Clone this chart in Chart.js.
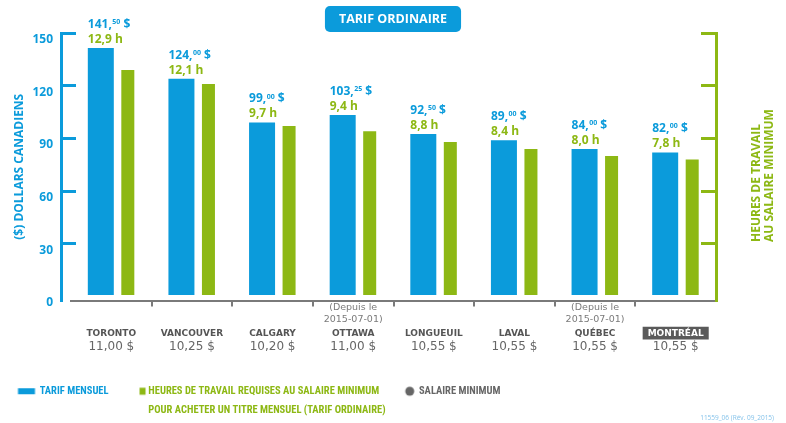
<!DOCTYPE html>
<html lang="fr"><head><meta charset="utf-8">
<script src="https://cdn.jsdelivr.net/npm/chart.js@4.4.1/dist/chart.umd.min.js"></script>
<style>html,body{margin:0;padding:0;background:#fff;}canvas{display:block;}</style>
</head><body>
<canvas id="chart" width="786" height="423"></canvas>
<script>
// ---------- data ----------
const cities = ['TORONTO','VANCOUVER','CALGARY','OTTAWA','LONGUEUIL','LAVAL','QUÉBEC','MONTRÉAL'];
const cityNotes = ['', '', '', ['(Depuis le','2015-07-01)'], '', '', ['(Depuis le','2015-07-01)'], ''];
const minimumWages = ['11,00 $','10,25 $','10,20 $','11,00 $','10,55 $','10,55 $','10,55 $','10,55 $'];
const monthlyFare = [141.50, 124.00, 99.00, 103.25, 92.50, 89.00, 84.00, 82.00];
const hoursRequired = [12.9, 12.1, 9.7, 9.4, 8.8, 8.4, 8.0, 7.8];
const dollarTicks = [0, 30, 60, 90, 120, 150];
const hourTicks = [0, 3, 6, 9, 12, 15];
const chartTitle = 'TARIF ORDINAIRE';
const leftAxisTitle = '($) DOLLARS CANADIENS';
const rightAxisTitle = ['HEURES DE TRAVAIL', 'AU SALAIRE MINIMUM'];
const legendLabels = ['TARIF MENSUEL', ['HEURES DE TRAVAIL REQUISES AU SALAIRE MINIMUM', 'POUR ACHETER UN TITRE MENSUEL (TARIF ORDINAIRE)'], 'SALAIRE MINIMUM'];
const highlightCity = 'MONTRÉAL';
const footnote = '11559_06 (Rév. 09_2015)';

// ---------- styles ----------
const BLUE = '#0b9bdb', GREEN = '#8db814', AXISGRAY = '#7a7a7a', DOTGRAY = '#666666';
const FAM = '"Open Sans", Roboto, sans-serif';
const WIDE = '"DejaVu Sans", "Open Sans", sans-serif';
const NARROW = '"Liberation Sans Narrow", "Roboto Condensed", "DejaVu Sans Condensed", Roboto, sans-serif';
const CLEAR = 'rgba(0,0,0,0)';
const LEGEND_FONT = { family: NARROW, size: 10.5, weight: 'bold' };
const LEGEND_BOX = 12;

function swatch(draw){
  const c = document.createElement('canvas'); c.width = 24; c.height = 12;
  draw(c.getContext('2d')); return c;
}
const swBlue = swatch(g => { g.fillStyle = BLUE; g.fillRect(1.5, 3, 17, 6); });
const swGreen = swatch(g => { g.fillStyle = GREEN; g.fillRect(14.5, 2.5, 6, 7); });
const swGray = swatch(g => { g.fillStyle = DOTGRAY; g.beginPath(); g.arc(14, 6, 4.5, 0, Math.PI*2); g.fill(); });

function moneyParts(v){
  const whole = Math.floor(v);
  const cents = String(Math.round((v - whole) * 100)).padStart(2, '0');
  return [whole + ',', cents, ' $'];
}
function hoursText(v){ return v.toFixed(1).replace('.', ',') + ' h'; }

const titleBox = {
  id: 'titleBox',
  beforeDraw(chart){
    const tb = chart.titleBlock; if (!tb) return;
    const ctx = chart.ctx;
    ctx.save();
    ctx.font = `bold 12.5px ${FAM}`;
    const w = ctx.measureText(chartTitle).width + 28;
    const cx = (tb.left + tb.right) / 2;
    ctx.fillStyle = BLUE;
    ctx.beginPath();
    ctx.roundRect(cx - w/2, 6, w, 26, 5);
    ctx.fill();
    ctx.restore();
  }
};

const valueLabels = {
  id: 'valueLabels',
  afterDatasetsDraw(chart){
    const ctx = chart.ctx;
    const meta = chart.getDatasetMeta(0);
    ctx.save();
    ctx.textAlign = 'left'; ctx.textBaseline = 'middle';
    meta.data.forEach((bar, i) => {
      const left = bar.x - bar.width / 2;
      const top = bar.y;
      const [a, c, d] = moneyParts(monthlyFare[i]);
      const y = top - 23.5;
      ctx.fillStyle = BLUE;
      ctx.font = `bold 12px ${FAM}`;
      ctx.fillText(a, left, y);
      let x = left + ctx.measureText(a).width + 0.5;
      ctx.font = `bold 7px ${FAM}`;
      ctx.fillText(c, x, y - 2.5);
      x += ctx.measureText(c).width;
      ctx.font = `bold 12px ${FAM}`;
      ctx.fillText(d, x, y);
      ctx.fillStyle = GREEN;
      ctx.fillText(hoursText(hoursRequired[i]), left, top - 8.5);
    });
    ctx.restore();
  }
};

const extraText = {
  id: 'extraText',
  afterDraw(chart){
    const ctx = chart.ctx;
    const s = chart.scales.y2;
    // right axis title (reads bottom to top)
    ctx.save();
    ctx.fillStyle = GREEN;
    ctx.font = `bold 12px ${FAM}`;
    ctx.textAlign = 'left'; ctx.textBaseline = 'middle';
    ctx.translate(s.left + 47, 242);
    ctx.rotate(-Math.PI / 2);
    ctx.fillText(rightAxisTitle[0], 0, -6.5);
    ctx.fillText(rightAxisTitle[1], 0, 6.5);
    ctx.restore();
    // second line of the second legend entry
    const lg = chart.legend;
    if (lg && lg.legendHitBoxes && lg.legendHitBoxes[1]) {
      const hb = lg.legendHitBoxes[1];
      ctx.save();
      ctx.fillStyle = GREEN;
      ctx.font = `${LEGEND_FONT.weight} ${LEGEND_FONT.size}px ${NARROW}`;
      ctx.textAlign = 'left'; ctx.textBaseline = 'middle';
      ctx.fillText(legendLabels[1][1], hb.left + LEGEND_BOX + LEGEND_FONT.size / 2, hb.top + LEGEND_FONT.size / 2 + 19);
      ctx.restore();
    }
    // footnote
    ctx.save();
    ctx.fillStyle = '#86c3ea';
    ctx.font = `6.5px ${FAM}`;
    ctx.textAlign = 'right'; ctx.textBaseline = 'middle';
    ctx.fillText(footnote, 774, 418);
    ctx.restore();
  }
};

Chart.defaults.font.family = FAM;

new Chart(document.getElementById('chart'), {
  type: 'bar',
  data: {
    labels: cities,
    datasets: [
      { label: legendLabels[0], data: monthlyFare, backgroundColor: BLUE, xAxisID: 'x', yAxisID: 'y',
        categoryPercentage: 0.521, barPercentage: 1.238 },
      { label: legendLabels[1].join(' '), data: hoursRequired, backgroundColor: GREEN, xAxisID: 'x', yAxisID: 'y2',
        categoryPercentage: 0.819, barPercentage: 0.394 }
    ]
  },
  options: {
    responsive: false,
    animation: false,
    devicePixelRatio: 1,
    layout: { padding: { bottom: 16.5 } },
    scales: {
      x: {
        type: 'category', position: 'bottom', offset: true, weight: 0,
        afterFit: s => { s.height = 26; },
        border: { display: true, color: AXISGRAY, width: 2 },
        grid: { offset: true, drawOnChartArea: false, drawTicks: true, tickLength: 6, lineWidth: 2,
          color: c => (c.index === 0 || c.index === undefined) ? CLEAR : AXISGRAY },
        ticks: { callback: (v, i) => cityNotes[i], autoSkip: false, maxRotation: 0, padding: -5,
          color: '#7a7a7a', font: { family: WIDE, size: 9.5, lineHeight: 1.26 } }
      },
      xCity: {
        type: 'category', position: 'bottom', offset: true, weight: 1,
        afterFit: s => { s.height = 13; },
        border: { display: false },
        grid: { display: false, drawTicks: false },
        ticks: { autoSkip: false, maxRotation: 0, padding: 2,
          color: c => cities[c.index] === highlightCity ? '#ffffff' : '#555555',
          font: { family: WIDE, size: 9, weight: 'bold' },
          showLabelBackdrop: c => cities[c.index] === highlightCity,
          backdropColor: '#5a5a5a',
          backdropPadding: { top: 2, bottom: 2, left: 5, right: 5 } }
      },
      xWage: {
        type: 'category', position: 'bottom', offset: true, weight: 2, labels: minimumWages,
        afterFit: s => { s.height = 24; },
        border: { display: false },
        grid: { display: false, drawTicks: false },
        ticks: { autoSkip: false, maxRotation: 0, padding: 0.5, color: '#666666',
          font: { family: WIDE, size: 12 } }
      },
      y: {
        type: 'linear', position: 'left', weight: 1, min: -2.3, max: 150,
        afterBuildTicks: s => { s.ticks = dollarTicks.map(v => ({ value: v })); },
        afterFit: s => { s.width = 61; },
        border: { display: true, color: BLUE, width: 3 },
        grid: { drawOnChartArea: false, drawTicks: true, tickLength: -15, lineWidth: 3,
          color: c => (c.tick && c.tick.value === 0) ? CLEAR : BLUE },
        ticks: { color: BLUE, padding: 23, labelOffset: 6.5, font: { family: FAM, size: 12, weight: 'bold' } },
        title: { display: true, text: leftAxisTitle, color: BLUE, padding: { top: 12, bottom: 0 },
          font: { family: FAM, size: 12, weight: 'bold' } }
      },
      ySpace: {
        type: 'linear', position: 'left', weight: 0, display: true,
        afterFit: s => { s.width = 10; },
        border: { display: false }, grid: { display: false }, ticks: { display: false }
      },
      y2: {
        type: 'linear', position: 'right', weight: 0, min: -0.23, max: 15,
        afterBuildTicks: s => { s.ticks = hourTicks.map(v => ({ value: v })); },
        afterFit: s => { s.width = 70; },
        border: { display: true, color: GREEN, width: 3 },
        grid: { drawOnChartArea: false, drawTicks: true, tickLength: -15, lineWidth: 3,
          color: c => (c.tick && c.tick.value === 0) ? CLEAR : GREEN },
        ticks: { display: false }
      }
    },
    plugins: {
      tooltip: { enabled: false },
      title: { display: true, text: chartTitle, color: '#ffffff',
        font: { family: FAM, size: 12.5, weight: 'bold' }, padding: { top: 12, bottom: 6 } },
      legend: {
        display: true, position: 'bottom', align: 'start',
        labels: {
          usePointStyle: true, pointStyleWidth: LEGEND_BOX, boxHeight: 11, padding: 22.5,
          font: LEGEND_FONT,
          generateLabels: () => [
            { text: legendLabels[0], fillStyle: BLUE, strokeStyle: CLEAR, lineWidth: 0, pointStyle: swBlue, fontColor: BLUE, hidden: false, datasetIndex: 0 },
            { text: legendLabels[1][0], fillStyle: GREEN, strokeStyle: CLEAR, lineWidth: 0, pointStyle: swGreen, fontColor: GREEN, hidden: false, datasetIndex: 1 },
            { text: legendLabels[2], fillStyle: DOTGRAY, strokeStyle: CLEAR, lineWidth: 0, pointStyle: swGray, fontColor: DOTGRAY, hidden: false }
          ]
        }
      }
    }
  },
  plugins: [titleBox, valueLabels, extraText]
});
</script>
</body></html>
